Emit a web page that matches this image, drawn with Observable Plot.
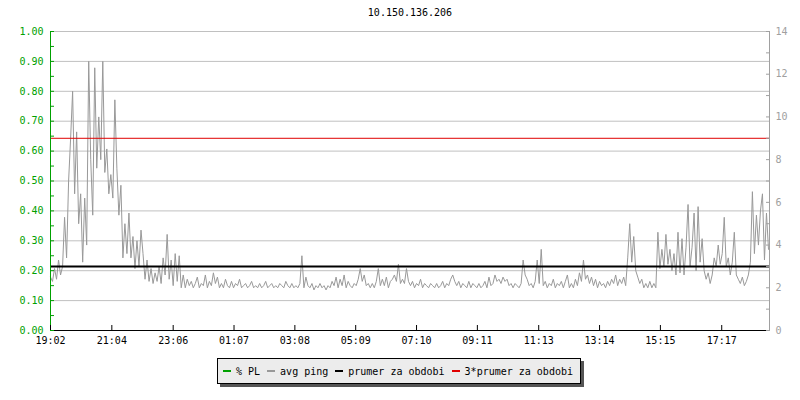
<!DOCTYPE html>
<html>
<head>
<meta charset="utf-8">
<script src="https://cdn.jsdelivr.net/npm/d3@7"></script>
<script src="https://cdn.jsdelivr.net/npm/@observablehq/plot@0.6"></script>
<style>
  body { margin: 0; background: #fff; font-family: "DejaVu Sans Mono", monospace; }
  #wrap { width: 800px; height: 400px; overflow: hidden; }
  #title { height: 24px; line-height: 26px; font-size: 10px; text-align: center; padding-left: 20px; box-sizing: border-box; color: #000; }
  #legend { margin: 6px 0 0 217px; width: 364px; height: 26px; box-sizing: border-box; border: 1px solid #000;
            background: #ececec; box-shadow: 3px 3px 0 #555; display: flex; align-items: center;
            padding-left: 5px; font-size: 10px; color: #000; white-space: pre; }
  .item { display: flex; align-items: center; margin-right: 7px; }
  .sw { display: inline-block; width: 8px; height: 2px; margin-right: 5px; }
</style>
</head>
<body>
<div id="wrap">
  <div id="title"></div>
  <div id="chart"></div>
  <div id="legend"></div>
</div>
<script>
// ---- data ----
const chartTitle = "10.150.136.206";
const timeLabels = ["19:02","21:04","23:06","01:07","03:08","05:09","07:10","09:11","11:13","13:14","15:15","17:17"];
const spanMinutes = 1430;      // whole period shown
const stepMinutes = 4;         // one sample every 4 minutes
const leftTicks = [0, 0.1, 0.2, 0.3, 0.4, 0.5, 0.6, 0.7, 0.8, 0.9, 1.0];   // % PL axis
const rightTicks = [0, 2, 4, 6, 8, 10, 12, 14];                           // ms axis
const rightMax = 14;
const prumer = 3.0;            // average ping (ms)
const prumer3 = 9.0;           // 3 * average
const legendNames = ["% PL", "avg ping", "prumer za obdobi", "3*prumer za obdobi"];
const legendColors = ["#00a000", "#999999", "#000000", "#e00000"];

const avgPing = [
  2.5,2.3,2.9,2.4,3.3,2.6,3.0,5.3,3.4,7.0,
  9.0,11.2,6.4,9.3,5.0,6.4,3.2,6.2,4.0,12.6,
  8.0,5.4,12.3,7.6,10.0,8.0,12.6,7.4,8.5,6.4,
  7.3,6.2,10.8,7.6,5.4,6.8,3.4,5.0,3.6,5.5,
  3.4,4.4,2.9,4.2,3.0,4.7,3.6,2.4,3.3,2.3,
  2.9,2.2,2.7,2.3,3.0,2.2,3.4,2.6,4.5,2.4,
  3.3,2.1,3.6,2.3,3.5,2.0,2.6,2.0,2.4,2.1,
  2.3,2.0,2.2,2.5,2.0,2.2,2.1,2.6,2.0,2.3,
  2.1,2.7,2.2,2.5,2.0,2.2,2.0,2.4,2.1,2.0,
  2.3,2.0,2.2,2.1,2.4,2.0,2.1,2.2,2.0,2.1,
  2.3,2.0,2.1,2.0,2.2,2.0,2.1,2.3,2.0,2.1,
  2.2,2.0,2.1,2.0,2.2,2.1,2.0,2.3,2.1,2.0,
  2.2,2.0,2.1,2.0,2.2,3.5,2.0,2.5,2.1,2.0,
  2.2,1.9,2.1,2.0,2.2,2.0,2.1,1.9,2.1,2.0,
  2.3,2.1,2.5,2.0,2.4,2.1,2.6,2.0,2.3,2.1,
  2.0,2.2,2.1,2.4,2.9,2.3,2.6,2.1,2.2,2.0,
  2.2,2.0,2.3,2.9,2.1,2.4,2.1,2.5,2.0,2.3,
  2.4,2.6,2.3,3.1,2.2,2.4,2.2,2.9,2.3,2.1,
  2.3,2.0,2.2,2.1,2.4,2.0,2.2,2.1,2.0,2.2,
  2.1,2.0,2.2,2.0,2.1,2.3,2.0,2.2,2.1,2.4,
  2.6,2.3,2.1,2.3,2.0,2.2,2.1,2.0,2.3,2.0,
  2.2,2.1,2.0,2.2,2.0,2.1,2.3,2.0,2.5,2.1,
  2.2,2.6,2.3,2.4,2.2,2.5,2.3,2.4,2.1,2.2,
  2.0,2.2,2.1,2.0,2.2,3.3,2.6,2.4,2.1,2.2,
  2.0,2.3,3.3,2.2,3.8,2.1,2.3,2.0,2.2,2.1,
  2.4,2.0,2.2,2.1,2.3,2.0,2.3,2.6,2.0,2.2,
  2.0,2.4,2.1,2.7,2.3,3.3,2.4,2.6,2.2,2.5,
  2.1,2.4,2.0,2.3,2.1,2.2,2.0,2.3,2.1,2.4,
  2.2,2.6,2.1,2.4,2.2,2.5,2.1,3.4,5.0,3.2,
  4.4,2.8,2.5,2.2,2.4,2.0,2.2,2.0,2.3,2.0,
  2.2,2.0,4.6,2.9,3.8,3.0,4.5,3.1,3.8,2.8,
  3.6,2.6,4.6,2.7,4.3,2.6,3.9,5.9,3.0,3.9,
  5.5,2.8,5.8,3.2,4.3,2.8,2.4,2.7,2.2,2.6,
  3.4,3.0,4.0,3.1,3.6,5.3,3.0,3.4,2.6,3.2,
  4.6,2.6,2.4,2.2,2.5,2.1,2.3,2.6,3.2,6.5,
  3.6,5.4,4.0,5.6,6.4,3.3,5.5,3.8
];

// ---- derived ----
function toMin(s) { const [h, m] = s.split(":").map(Number); return h * 60 + m; }
const t0 = toMin(timeLabels[0]);
const tickMinutes = timeLabels.map(s => (toMin(s) - t0 + 1440) % 1440);
const labelByMinute = new Map(tickMinutes.map((m, i) => [m, timeLabels[i]]));
const pingData = avgPing.map((v, i) => ({t: i * stepMinutes, v}));
const leftMinor = d3.range(0, 21).map(i => i * 0.05 * rightMax);
const rightMinor = d3.range(0, rightMax + 1);
const gridVals = leftTicks.slice(1).map(f => f * rightMax);

document.getElementById("title").textContent = chartTitle;

const green = "#00a000", gray = "#a0a0a0";
const chart = Plot.plot({
  width: 800,
  height: 328,
  marginTop: 7,
  marginBottom: 22,
  marginLeft: 50,
  marginRight: 31,
  x: {domain: [0, spanMinutes], axis: null},
  y: {domain: [0, rightMax], axis: null},
  style: {fontFamily: "DejaVu Sans Mono, monospace", fontSize: "10px", background: "#fff", overflow: "visible"},
  marks: [
    Plot.ruleY(gridVals, {stroke: "#c0c0c0", strokeWidth: 1}),
    Plot.line(pingData, {x: "t", y: "v", stroke: "#999999", strokeWidth: 1}),
    Plot.ruleY([prumer], {stroke: "#000", strokeWidth: 2}),
    Plot.ruleY([prumer3], {stroke: "#e00000", strokeWidth: 1}),
    // axis lines
    Plot.ruleX([0], {stroke: green}),
    Plot.ruleX([spanMinutes], {stroke: gray}),
    Plot.ruleY([0], {stroke: "#000"}),
    // left axis
    Plot.axisY(leftTicks.map(f => f * rightMax), {anchor: "left", label: null, tickSize: 0, tickPadding: 7,
      tickFormat: d => (d / rightMax).toFixed(2), fill: green}),
    Plot.axisY(leftMinor, {anchor: "left", label: null, tickSize: 4, insetLeft: 4, tickFormat: () => "", stroke: green}),
    // right axis
    Plot.axisY(rightTicks, {anchor: "right", label: null, tickSize: 0, tickPadding: 6, tickFormat: d => String(d), fill: gray}),
    Plot.axisY(rightMinor, {anchor: "right", label: null, tickSize: 4, insetRight: 4, tickFormat: () => "", stroke: gray}),
    // bottom axis
    Plot.axisX(tickMinutes, {anchor: "bottom", label: null, tickSize: 0, tickPadding: 6,
      tickFormat: d => labelByMinute.get(d), fill: "#000"}),
    Plot.axisX(tickMinutes, {anchor: "bottom", label: null, tickSize: 5, insetBottom: 5, tickFormat: () => "", stroke: "#000"})
  ]
});
document.getElementById("chart").appendChild(chart);

const legend = document.getElementById("legend");
legendNames.forEach((name, i) => {
  const it = document.createElement("span");
  it.className = "item";
  const sw = document.createElement("span");
  sw.className = "sw";
  sw.style.background = legendColors[i];
  it.appendChild(sw);
  it.appendChild(document.createTextNode(name));
  legend.appendChild(it);
});
</script>
</body>
</html>
